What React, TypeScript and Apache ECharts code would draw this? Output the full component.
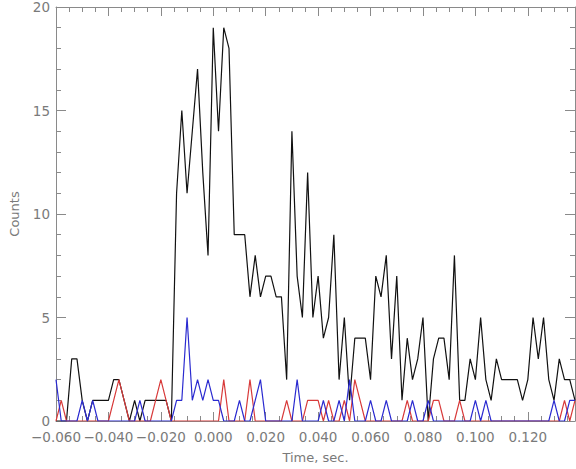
import React, { useEffect, useRef } from "react";
import * as echarts from "echarts";

// time bins (seconds): start and width of each bin
const T_START = -0.06;
const BIN_WIDTH = 0.002;

// counts per bin
const totalCounts = [
  0, 0, 0, 3, 3, 1, 0, 1, 1, 1,
  1, 2, 2, 1, 0, 1, 0, 1, 1, 1,
  1, 1, 0, 11, 15, 11, 14, 17, 12, 8,
  19, 14, 19, 18, 9, 9, 9, 6, 8, 6,
  7, 7, 6, 6, 2, 14, 7, 5, 12, 5,
  7, 4, 5, 9, 2, 5, 1, 4, 4, 4,
  2, 7, 6, 8, 3, 7, 1, 4, 2, 3,
  5, 0, 3, 4, 4, 2, 8, 1, 1, 3,
  2, 5, 2, 1, 3, 2, 2, 2, 2, 1,
  2, 5, 3, 5, 2, 1, 3, 2, 2, 1,
];
const redCounts = [
  0, 1, 0, 0, 0, 0, 0, 0, 0, 0,
  0, 1, 2, 1, 0, 0, 0, 0, 0, 1,
  2, 1, 0, 0, 0, 0, 0, 0, 0, 0,
  0, 0, 2, 0, 0, 0, 0, 2, 0, 0,
  0, 0, 0, 0, 1, 0, 0, 0, 1, 1,
  1, 0, 1, 0, 0, 1, 0, 2, 1, 0,
  0, 0, 0, 0, 0, 0, 0, 1, 0, 0,
  0, 0, 1, 1, 0, 0, 0, 1, 0, 0,
  0, 0, 0, 0, 0, 0, 0, 0, 0, 0,
  0, 0, 0, 0, 0, 0, 0, 1, 0, 1,
];
const blueCounts = [
  2, 0, 0, 0, 0, 1, 0, 1, 0, 0,
  0, 0, 0, 0, 0, 0, 1, 0, 0, 0,
  0, 0, 0, 1, 1, 5, 1, 2, 1, 2,
  1, 1, 0, 0, 0, 1, 0, 0, 1, 2,
  0, 0, 0, 0, 0, 0, 2, 0, 0, 0,
  0, 1, 0, 0, 1, 0, 2, 0, 0, 0,
  1, 0, 0, 1, 0, 0, 0, 0, 1, 0,
  0, 1, 0, 0, 0, 0, 0, 0, 0, 0,
  1, 0, 1, 0, 0, 0, 0, 0, 0, 0,
  0, 0, 0, 0, 0, 1, 0, 0, 1, 1,
];

const X_MIN = -0.06;
const X_MAX = 0.138;
const X_MAJOR = 0.02;
const Y_MIN = 0;
const Y_MAX = 20;
const Y_MAJOR = 5;

const times = totalCounts.map((_, i) => +(T_START + i * BIN_WIDTH).toFixed(4));

const AXIS_COLOR = "#8a8a8a";
const TEXT_COLOR = "#7a7a7a";
const FONT = "DejaVu Sans";

function pairs(vals: number[]) {
  return vals.map((v, i) => [times[i], v]);
}

function fmtX(v: number) {
  const k = Math.round(v * 1000);
  if (k % 20 !== 0) return "";
  return (k < 0 ? "\u2212" : "") + (Math.abs(k) / 1000).toFixed(3);
}

export default function App() {
  const ref = useRef<HTMLDivElement>(null);
  useEffect(() => {
    if (!ref.current) return;
    const chart = echarts.init(ref.current, null, { renderer: "svg" });
    const common = {
      type: "value" as const,
      axisLine: { show: true, onZero: false, lineStyle: { color: AXIS_COLOR, width: 1 } },
      splitLine: { show: false },
    };
    const xBase = {
      ...common,
      min: X_MIN,
      max: X_MAX,
      interval: X_MAJOR,
      axisTick: { show: true, inside: true, length: 9, lineStyle: { color: AXIS_COLOR } },
      minorTick: { show: true, splitNumber: 4, length: 5, lineStyle: { color: AXIS_COLOR } },
    };
    const yBase = {
      ...common,
      min: Y_MIN,
      max: Y_MAX,
      interval: Y_MAJOR,
      axisTick: { show: true, inside: true, length: 10, lineStyle: { color: AXIS_COLOR } },
      minorTick: { show: true, splitNumber: 5, length: 5, lineStyle: { color: AXIS_COLOR } },
    };
    chart.setOption({
      animation: false,
      backgroundColor: "#ffffff",
      grid: { left: 53, right: 1, top: 7, bottom: 41.5, containLabel: false },
      xAxis: [
        {
          ...xBase,
          position: "bottom",
          axisLabel: {
            show: true,
            formatter: fmtX,
            color: TEXT_COLOR,
            fontFamily: FONT,
            fontSize: 13.5,
            margin: 9,
            showMaxLabel: false,
          },
          name: "Time, sec.",
          nameLocation: "middle",
          nameGap: 30,
          nameTextStyle: { color: TEXT_COLOR, fontFamily: FONT, fontSize: 13 },
        },
        {
          ...xBase,
          position: "top",
          axisLabel: { show: false },
        },
      ],
      yAxis: [
        {
          ...yBase,
          position: "left",
          axisLabel: {
            show: true,
            color: TEXT_COLOR,
            fontFamily: FONT,
            fontSize: 13.5,
            margin: 6,
          },
          name: "Counts",
          nameLocation: "middle",
          nameGap: 35,
          nameTextStyle: { color: TEXT_COLOR, fontFamily: FONT, fontSize: 13 },
        },
        {
          ...yBase,
          position: "right",
          axisLabel: { show: false },
        },
      ],
      series: [
        {
          name: "Total",
          type: "line",
          xAxisIndex: 0,
          yAxisIndex: 0,
          data: pairs(totalCounts),
          showSymbol: false,
          lineStyle: { color: "#111111", width: 1.2 },
          itemStyle: { color: "#111111" },
        },
        {
          name: "Red",
          type: "line",
          xAxisIndex: 0,
          yAxisIndex: 0,
          data: pairs(redCounts),
          showSymbol: false,
          lineStyle: { color: "#d83a3a", width: 1.2 },
          itemStyle: { color: "#d83a3a" },
        },
        {
          name: "Blue",
          type: "line",
          xAxisIndex: 0,
          yAxisIndex: 0,
          data: pairs(blueCounts),
          showSymbol: false,
          lineStyle: { color: "#2a2ad0", width: 1.2 },
          itemStyle: { color: "#2a2ad0" },
        },
      ],
    });
    return () => chart.dispose();
  }, []);
  return (
    <div
      ref={ref}
      style={{ position: "absolute", left: 0, top: 0, width: 576, height: 469 }}
    />
  );
}
